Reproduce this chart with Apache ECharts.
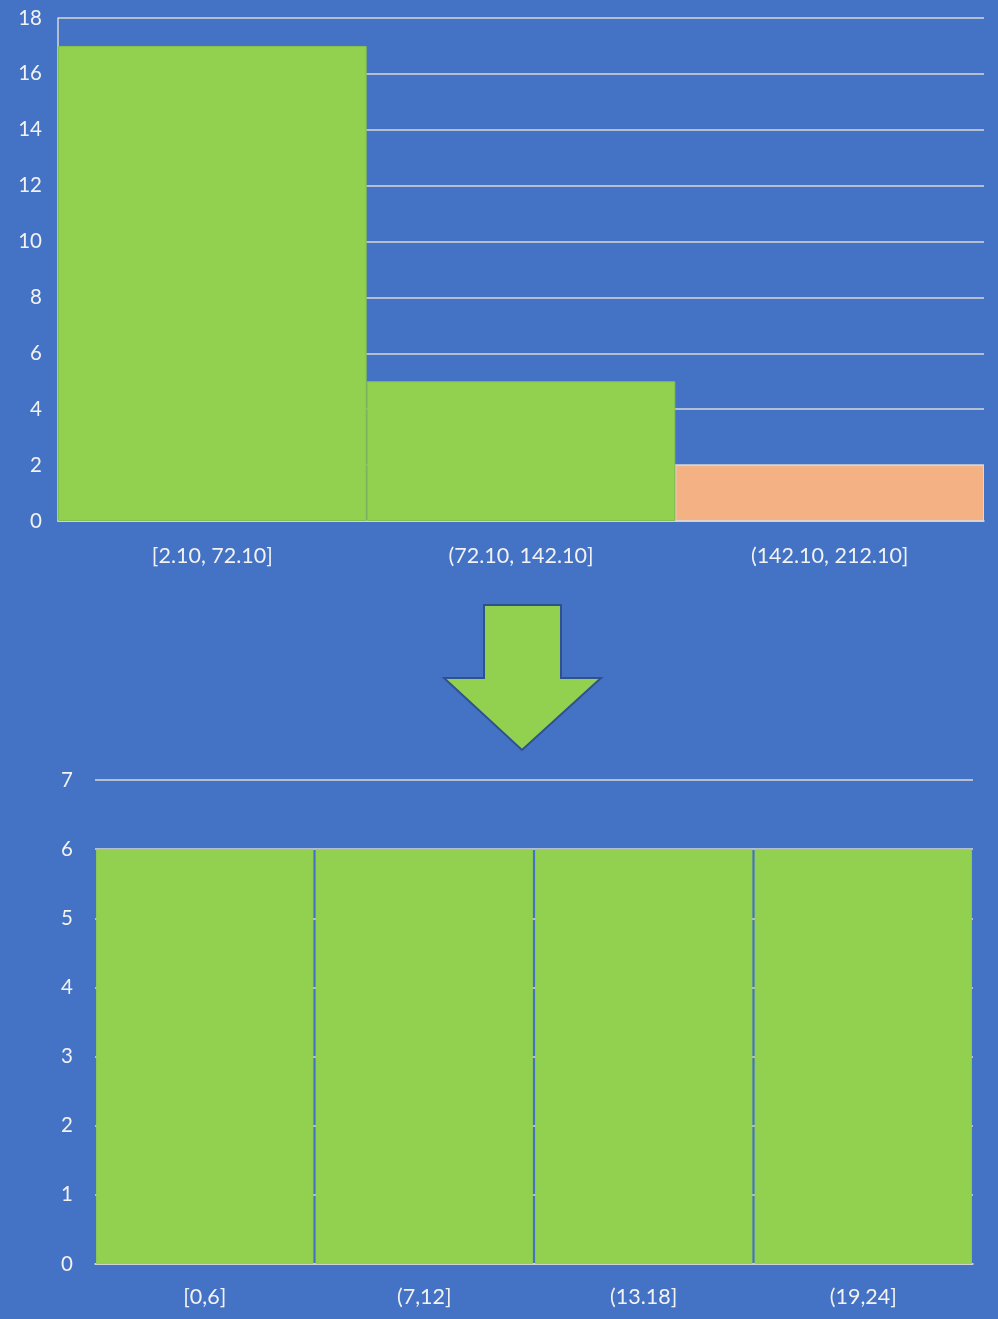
<!DOCTYPE html>
<html>
<head>
<meta charset="utf-8">
<script src="https://cdn.jsdelivr.net/npm/echarts@6/dist/echarts.min.js"></script>
<style>
  html, body { margin: 0; padding: 0; background: #4472C4; }
  #chart { width: 998px; height: 1319px; }
</style>
</head>
<body>
<div id="chart"></div>
<script>
// Upper histogram: unequal-frequency bins
const topCategories = ['[2.10, 72.10]', '(72.10, 142.10]', '(142.10, 212.10]'];
const topCounts = [17, 5, 2];
const topColors = ['#92D050', '#92D050', '#F4B183'];

// Lower histogram: equal-frequency bins
const bottomCategories = ['[0,6]', '(7,12]', '(13.18]', '(19,24]'];
const bottomCounts = [6, 6, 6, 6];

const textColor = '#F2F2F2';
const lineColor = '#D9D9D9';
const fontFamily = 'Lato, "Open Sans", sans-serif';

const chart = echarts.init(document.getElementById('chart'), null, { renderer: 'canvas' });

chart.setOption({
  backgroundColor: '#4472C4',
  animation: false,
  grid: [
    { left: 58, right: 14, top: 18, height: 503 },
    { left: 95, right: 25, top: 780, height: 484 }
  ],
  xAxis: [
    {
      gridIndex: 0, type: 'category', data: topCategories,
      axisLine: { show: true, lineStyle: { color: lineColor, width: 1.5 } },
      axisTick: { show: false },
      axisLabel: { color: textColor, fontSize: 21.5, fontFamily, margin: 24 }
    },
    {
      gridIndex: 1, type: 'category', data: bottomCategories,
      axisLine: { show: true, lineStyle: { color: lineColor, width: 1.5 } },
      axisTick: { show: false },
      axisLabel: { color: textColor, fontSize: 21.5, fontFamily, margin: 22 }
    }
  ],
  yAxis: [
    {
      gridIndex: 0, type: 'value', min: 0, max: 18, interval: 2,
      axisLine: { show: true, lineStyle: { color: lineColor, width: 1.5 } },
      axisTick: { show: false },
      splitLine: { lineStyle: { color: lineColor, width: 1.5 } },
      axisLabel: { color: textColor, fontSize: 20.5, fontFamily, margin: 16 }
    },
    {
      gridIndex: 1, type: 'value', min: 0, max: 7, interval: 1,
      axisLine: { show: false },
      axisTick: { show: false },
      splitLine: { lineStyle: { color: lineColor, width: 1.5 } },
      axisLabel: { color: textColor, fontSize: 20.5, fontFamily, margin: 22 }
    }
  ],
  series: [
    {
      type: 'bar', xAxisIndex: 0, yAxisIndex: 0,
      barCategoryGap: '0%',
      data: topCounts.map((v, i) => ({
        value: v,
        itemStyle: {
          color: topColors[i],
          borderColor: topColors[i] === '#F4B183' ? '#E2D6CC' : '#86C24A',
          borderWidth: 1
        }
      }))
    },
    {
      type: 'bar', xAxisIndex: 1, yAxisIndex: 1,
      barCategoryGap: '1%',
      itemStyle: { color: '#92D050' },
      data: bottomCounts
    }
  ],
  graphic: [
    {
      // downward arrow between the two histograms
      type: 'polygon',
      shape: {
        points: [[484, 605], [561, 605], [561, 678], [601, 678], [522, 750], [444, 678], [484, 678]]
      },
      style: { fill: '#92D050', stroke: '#2F528F', lineWidth: 2 }
    }
  ]
});
</script>
</body>
</html>
